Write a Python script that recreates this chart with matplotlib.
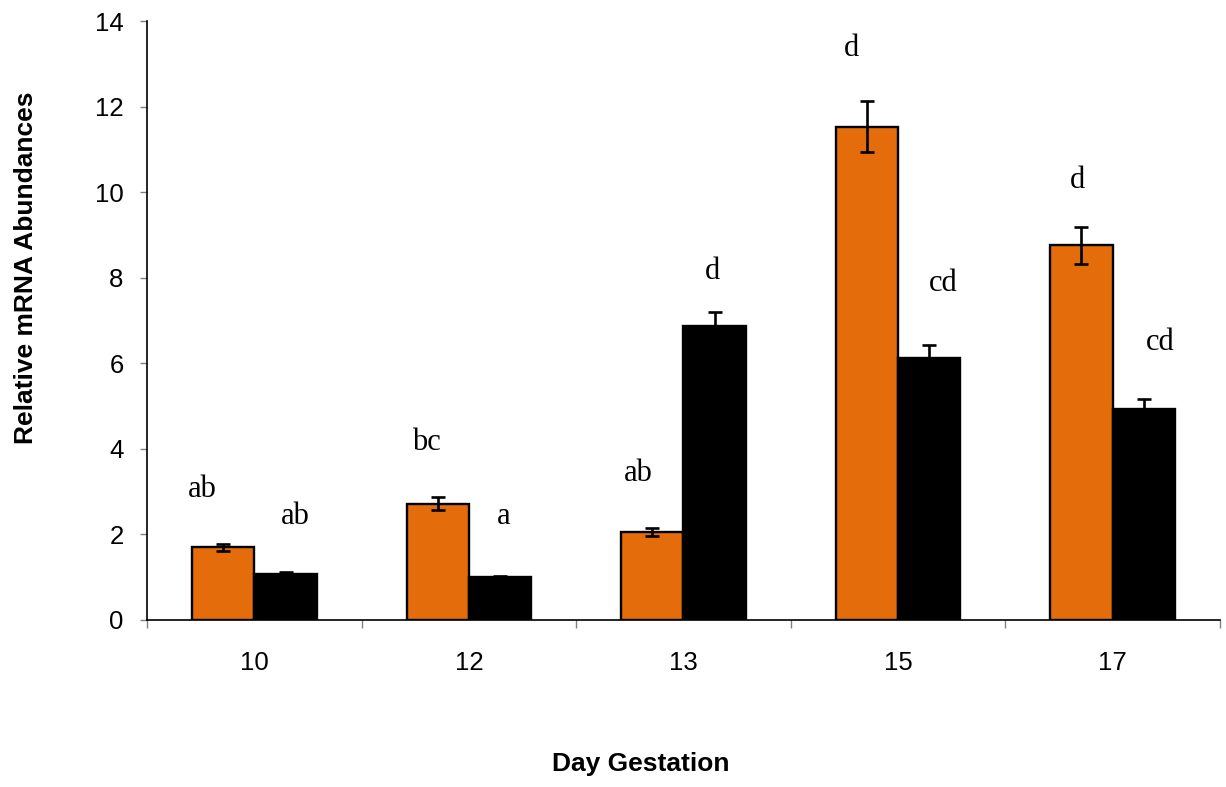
import matplotlib
matplotlib.use("Agg")
import matplotlib.pyplot as plt
import numpy as np

days = ["10", "12", "13", "15", "17"]
orange_vals = [1.70, 2.72, 2.06, 11.53, 8.76]
orange_err = [0.08, 0.15, 0.10, 0.60, 0.43]
black_vals = [1.08, 1.00, 6.87, 6.12, 4.92]
black_err = [0.04, 0.04, 0.33, 0.30, 0.24]
orange_letters = ["ab", "bc", "ab", "d", "d"]
black_letters = ["ab", "a", "d", "cd", "cd"]

# letter placement (baseline height in data units, horizontal nudge from bar centre)
orange_letter_y = [2.87, 3.97, 3.25, 13.18, 10.09]
black_letter_y = [2.24, 2.24, 7.97, 7.69, 6.31]
orange_letter_dx = [-0.098, -0.051, -0.065, -0.070, -0.019]
black_letter_dx = [0.047, 0.019, -0.010, 0.065, 0.079]

fig = plt.figure(figsize=(12.26, 7.87), dpi=100)
ax = fig.add_axes([0.12, 0.2122, 0.875, 0.7611])

x = np.arange(len(days))
w = 0.29
ax.bar(x - w / 2, orange_vals, w, color="#E46C0A", edgecolor="black", linewidth=1.7, zorder=2)
ax.bar(x + w / 2, black_vals, w, color="black", edgecolor="black", linewidth=1.7, zorder=2)
ax.errorbar(x - w / 2, orange_vals, yerr=orange_err, fmt="none", ecolor="black",
            elinewidth=1.9, capsize=4.8, capthick=1.9, zorder=3)
ax.errorbar(x + w / 2, black_vals, yerr=black_err, fmt="none", ecolor="black",
            elinewidth=1.9, capsize=4.8, capthick=1.9, zorder=3)

serif = dict(family="Liberation Serif", fontsize=22, ha="center", va="baseline")
for i in range(len(days)):
    ax.text(x[i] - w / 2 + orange_letter_dx[i], orange_letter_y[i], orange_letters[i], **serif)
    ax.text(x[i] + w / 2 + black_letter_dx[i], black_letter_y[i], black_letters[i], **serif)

ax.set_xlim(-0.5, len(days) - 0.5)
ax.set_ylim(0, 14)
ax.set_yticks(np.arange(0, 15, 2))
ax.set_xticks(x)
ax.set_xticklabels(days)
ax.set_xticks(np.arange(-0.5, len(days), 1), minor=True)
ax.tick_params(axis="x", which="major", length=0, pad=22, labelsize=18.5)
ax.tick_params(axis="x", which="minor", length=6, width=1, color="#808080", direction="out")
ax.tick_params(axis="y", which="major", length=5, width=1, color="#808080", labelsize=18.5, pad=12)
for lab in ax.get_xticklabels() + ax.get_yticklabels():
    lab.set_family("Liberation Sans")

for s in ("top", "right"):
    ax.spines[s].set_visible(False)
for s in ("left", "bottom"):
    ax.spines[s].set_linewidth(1.2)

ax.set_xlabel("Day Gestation", family="Liberation Sans", fontsize=19, fontweight="bold")
ax.set_ylabel("Relative mRNA Abundances", family="Liberation Sans", fontsize=19, fontweight="bold")
ax.xaxis.set_label_coords(0.46, -0.2204)
ax.yaxis.set_label_coords(-0.1016, 0.588)

fig.savefig("out.png", dpi=100)
